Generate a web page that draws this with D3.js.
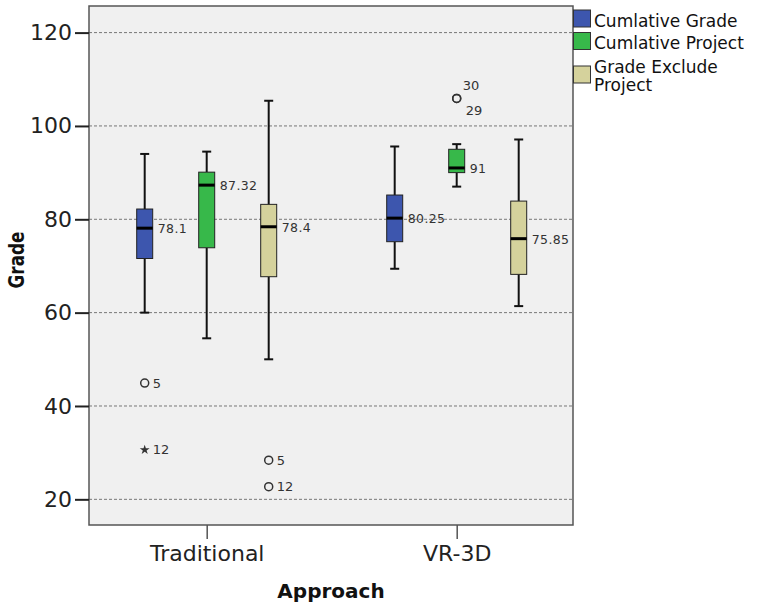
<!DOCTYPE html>
<html>
<head>
<meta charset="utf-8">
<script src="https://cdn.jsdelivr.net/npm/d3@7"></script>
<style>
  html, body { margin: 0; padding: 0; background: #fff; }
  svg { display: block; font-family: "DejaVu Sans", sans-serif; }
</style>
</head>
<body>
<svg id="chart" width="767" height="605"></svg>
<script>
// ---- data ----
const approaches = ["Traditional", "VR-3D"];
const seriesNames = ["Cumlative Grade", "Cumlative Project", "Grade Exclude Project"];
const seriesColors = ["#3d56ae", "#37b84a", "#d5d29c"];
const yTicks = [20, 40, 60, 80, 100, 120];

// box stats per approach: [whiskerLow, q1, median, q3, whiskerHigh]
const cumGrade   = [[60.0, 71.6, 78.1, 82.2, 94.0], [69.4, 75.2, 80.25, 85.2, 95.6]];
const cumProject = [[54.5, 73.9, 87.32, 90.1, 94.5], [87.0, 90.0, 91.0, 95.0, 96.1]];
const gradeExcl  = [[50.0, 67.7, 78.4, 83.2, 105.4], [61.4, 68.2, 75.85, 83.9, 97.1]];
const medianLabels = [["78.1", "80.25"], ["87.32", "91"], ["78.4", "75.85"]];

// outliers
const outlierApproach = [0, 0, 0, 0, 1, 1];
const outlierSeries   = [0, 0, 2, 2, 1, 1];
const outlierValues   = [44.9, 30.6, 28.4, 22.7, 105.9, 105.9];
const outlierLabels   = ["5", "12", "5", "12", "30", "29"];
const outlierSymbols  = ["circle", "star", "circle", "circle", "circle", "circle"];
const outlierLabelPos = ["right", "right", "right", "right", "above", "below"];

// ---- layout ----
const svg = d3.select("#chart");
const plot = { left: 89, right: 573, top: 6, bottom: 525 };

const x = d3.scalePoint().domain(approaches)
  .range([plot.left + 0.7, plot.right + 0.7]).padding(0.468);
const x1 = d3.scaleBand().domain(d3.range(seriesNames.length))
  .range([-93, 93]).padding(0);
const y = d3.scaleLinear().domain([14.5, 125.7]).range([plot.bottom, plot.top]);

// background
svg.append("rect")
  .attr("x", plot.left).attr("y", plot.top)
  .attr("width", plot.right - plot.left).attr("height", plot.bottom - plot.top)
  .attr("fill", "#f0f0f0");

// gridlines
svg.append("g").selectAll("line").data(yTicks).join("line")
  .attr("x1", plot.left).attr("x2", plot.right)
  .attr("y1", d => y(d)).attr("y2", d => y(d))
  .attr("stroke", "#777").attr("stroke-width", 1).attr("stroke-dasharray", "3,2");

// border
svg.append("rect")
  .attr("x", plot.left).attr("y", plot.top)
  .attr("width", plot.right - plot.left).attr("height", plot.bottom - plot.top)
  .attr("fill", "none").attr("stroke", "#555").attr("stroke-width", 1.5);

// y axis
const yAxis = d3.axisLeft(y).tickValues(yTicks).tickSize(14).tickPadding(3).tickFormat(d3.format("d"));
const gy = svg.append("g").attr("transform", `translate(${plot.left},0)`).call(yAxis);
gy.select(".domain").remove();
gy.selectAll(".tick line").attr("stroke", "#222").attr("stroke-width", 2);
gy.selectAll(".tick text").attr("font-size", 22).attr("fill", "#222")
  .attr("font-family", "DejaVu Sans, sans-serif");

// x axis
const xAxis = d3.axisBottom(x).tickSize(14).tickPadding(6);
const gx = svg.append("g").attr("transform", `translate(0,${plot.bottom})`).call(xAxis);
gx.select(".domain").remove();
gx.selectAll(".tick line").attr("stroke", "#555").attr("stroke-width", 1.5);
gx.selectAll(".tick text").attr("font-size", 22).attr("fill", "#222")
  .attr("font-family", "DejaVu Sans, sans-serif");

// axis titles
svg.append("text").attr("x", (plot.left + plot.right) / 2).attr("y", 598)
  .attr("text-anchor", "middle").attr("font-size", 20).attr("font-weight", "bold")
  .attr("fill", "#111").text("Approach");
svg.append("text").attr("transform", `translate(23.5,260) rotate(-90)`)
  .attr("text-anchor", "middle").attr("font-size", 22).attr("font-weight", "bold")
  .attr("textLength", 57).attr("lengthAdjust", "spacingAndGlyphs")
  .attr("fill", "#111").text("Grade");

// boxes
const allSeries = [cumGrade, cumProject, gradeExcl];
const boxW = 16, capW = 9;
const boxes = [];
allSeries.forEach((ser, si) => {
  ser.forEach((st, ai) => {
    boxes.push({ si, ai, st, label: medianLabels[si][ai] });
  });
});
const centerX = (ai, si) => x(approaches[ai]) + x1(si) + x1.bandwidth() / 2;

const gb = svg.append("g");
boxes.forEach(b => {
  const cx = centerX(b.ai, b.si);
  const [lo, q1, med, q3, hi] = b.st;
  const g = gb.append("g");
  g.append("line").attr("x1", cx).attr("x2", cx).attr("y1", y(hi)).attr("y2", y(q3))
    .attr("stroke", "#111").attr("stroke-width", 2);
  g.append("line").attr("x1", cx).attr("x2", cx).attr("y1", y(q1)).attr("y2", y(lo))
    .attr("stroke", "#111").attr("stroke-width", 2);
  g.append("line").attr("x1", cx - capW / 2).attr("x2", cx + capW / 2).attr("y1", y(hi)).attr("y2", y(hi))
    .attr("stroke", "#111").attr("stroke-width", 2);
  g.append("line").attr("x1", cx - capW / 2).attr("x2", cx + capW / 2).attr("y1", y(lo)).attr("y2", y(lo))
    .attr("stroke", "#111").attr("stroke-width", 2);
  g.append("rect").attr("x", cx - boxW / 2).attr("y", y(q3))
    .attr("width", boxW).attr("height", y(q1) - y(q3))
    .attr("fill", seriesColors[b.si]).attr("stroke", "#222").attr("stroke-width", 1);
  g.append("line").attr("x1", cx - boxW / 2).attr("x2", cx + boxW / 2).attr("y1", y(med)).attr("y2", y(med))
    .attr("stroke", "#000").attr("stroke-width", 3);
  g.append("text").attr("x", cx + boxW / 2 + 5).attr("y", y(med) + 5)
    .attr("font-size", 12.5).attr("fill", "#333").attr("letter-spacing", 0.4).text(b.label);
});

// outliers
const star = d3.symbol().type(d3.symbolStar).size(30);
outlierValues.forEach((v, i) => {
  const cx = centerX(outlierApproach[i], outlierSeries[i]);
  const cy = y(v);
  if (outlierSymbols[i] === "circle") {
    svg.append("circle").attr("cx", cx).attr("cy", cy).attr("r", 4)
      .attr("fill", "none").attr("stroke", "#333").attr("stroke-width", 1.5);
  } else {
    svg.append("path").attr("d", star).attr("transform", `translate(${cx},${cy})`).attr("fill", "#333");
  }
  let tx = cx + 8, ty = cy + 4.5;
  if (outlierLabelPos[i] === "above") { tx = cx + 6; ty = cy - 8; }
  if (outlierLabelPos[i] === "below") { tx = cx + 9; ty = cy + 17; }
  svg.append("text").attr("x", tx).attr("y", ty).attr("font-size", 13)
    .attr("fill", "#333").text(outlierLabels[i]);
});

// legend
const legendLines = [["Cumlative Grade"], ["Cumlative Project"], ["Grade Exclude", "Project"]];
const swatchY = [10, 32.5, 66];
const textY = [[26.5], [49], [72.5, 91]];
seriesNames.forEach((name, i) => {
  svg.append("rect").attr("x", 573.5).attr("y", swatchY[i]).attr("width", 17).attr("height", 17)
    .attr("fill", seriesColors[i]).attr("stroke", "#333").attr("stroke-width", 1);
  legendLines[i].forEach((ln, j) => {
    svg.append("text").attr("x", 594).attr("y", textY[i][j]).attr("font-size", 17)
      .attr("fill", "#111").text(ln);
  });
});
</script>
</body>
</html>
